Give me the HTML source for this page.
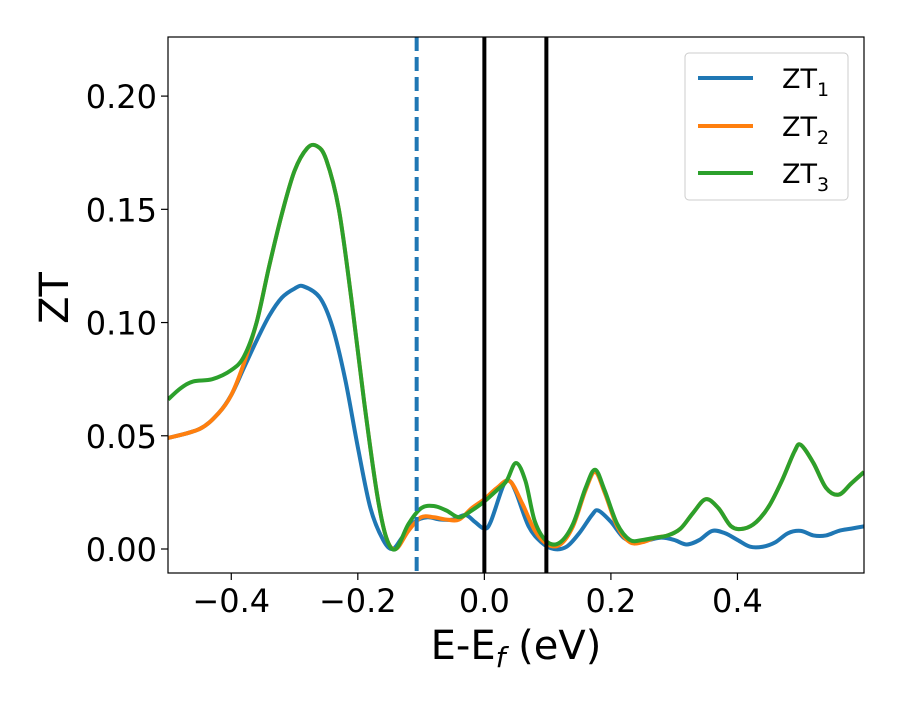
<!DOCTYPE html>
<html><head><meta charset="utf-8"><style>
body{margin:0;background:#fff}
svg{font-family:"DejaVu Sans","Liberation Sans",sans-serif}
</style></head><body>
<svg id="chart" width="900" height="700" viewBox="0 0 900 700">
<rect width="900" height="700" fill="#fff"/>
<g id="series"></g>
<g id="vlines"></g>
<rect x="168" y="37" width="696" height="536" fill="none" stroke="#000" stroke-width="1.2"/>
<g id="xticks"></g>
<g id="yticks"></g>
<text x="516" y="659" font-size="40" text-anchor="middle">E-E<tspan font-size="28" dy="8" font-style="italic">f</tspan><tspan dy="-8"> (eV)</tspan></text>
<text transform="translate(68,298) rotate(-90)" font-size="40" text-anchor="middle">ZT</text>
<g>
<rect x="685" y="53" width="163" height="147" rx="4" fill="#fff" fill-opacity="0.8" stroke="#ccc"/>
<g><line x1="698" x2="753" y1="78" y2="78" stroke="#1f77b4" stroke-width="4"/><text x="782" y="88" font-size="27">ZT<tspan font-size="19" dy="8">1</tspan></text></g>
<g><line x1="698" x2="753" y1="126" y2="126" stroke="#ff7f0e" stroke-width="4"/><text x="782" y="136" font-size="27">ZT<tspan font-size="19" dy="8">2</tspan></text></g>
<g><line x1="698" x2="753" y1="173" y2="173" stroke="#2ca02c" stroke-width="4"/><text x="782" y="183" font-size="27">ZT<tspan font-size="19" dy="8">3</tspan></text></g>
</g>
</svg>
<script>
const xTicks=[-0.4,-0.2,0.0,0.2,0.4];
const xTickLabels=["−0.4","−0.2","0.0","0.2","0.4"];
const yTicks=[0,0.05,0.10,0.15,0.20];
const yTickLabels=["0.00","0.05","0.10","0.15","0.20"];
const x1=[-0.5,-0.45,-0.42,-0.4,-0.38,-0.36,-0.34,-0.32,-0.30,-0.286,-0.26,-0.24,-0.22,-0.20,-0.18,-0.16,-0.145,-0.13,-0.11,-0.09,-0.07,-0.05,-0.03,-0.015,0.0,0.01,0.03,0.04,0.05,0.07,0.09,0.11,0.13,0.15,0.17,0.18,0.20,0.22,0.24,0.26,0.28,0.30,0.32,0.34,0.36,0.38,0.40,0.42,0.44,0.46,0.48,0.50,0.52,0.54,0.56,0.58,0.60];
const zt1=[0.049,0.053,0.060,0.068,0.080,0.092,0.103,0.111,0.115,0.116,0.111,0.098,0.075,0.045,0.018,0.004,0.000,0.005,0.012,0.014,0.013,0.013,0.015,0.012,0.009,0.012,0.028,0.030,0.025,0.010,0.003,0.000,0.001,0.007,0.015,0.017,0.012,0.005,0.003,0.004,0.005,0.004,0.002,0.004,0.008,0.007,0.004,0.001,0.001,0.003,0.007,0.008,0.006,0.006,0.008,0.009,0.010];
const x2=[-0.5,-0.45,-0.42,-0.4,-0.38,-0.36,-0.34,-0.32,-0.30,-0.28,-0.265,-0.25,-0.23,-0.21,-0.19,-0.17,-0.155,-0.14,-0.12,-0.10,-0.08,-0.06,-0.04,-0.02,0.0,0.02,0.04,0.06,0.08,0.10,0.12,0.14,0.16,0.175,0.19,0.21,0.23,0.25,0.27,0.29,0.31,0.33,0.35,0.37,0.39,0.41,0.43,0.45,0.47,0.49,0.50,0.52,0.54,0.56,0.58,0.60];
const zt2=[0.049,0.053,0.060,0.068,0.082,0.100,0.125,0.148,0.167,0.177,0.178,0.172,0.150,0.110,0.065,0.025,0.005,0.000,0.008,0.014,0.014,0.013,0.013,0.018,0.022,0.027,0.030,0.020,0.008,0.002,0.002,0.010,0.026,0.034,0.025,0.010,0.003,0.003,0.005,0.006,0.009,0.016,0.022,0.018,0.010,0.009,0.012,0.019,0.030,0.043,0.046,0.038,0.027,0.024,0.029,0.034];
const x3=[-0.5,-0.48,-0.46,-0.43,-0.40,-0.38,-0.36,-0.34,-0.32,-0.30,-0.28,-0.265,-0.25,-0.23,-0.21,-0.19,-0.17,-0.155,-0.14,-0.12,-0.10,-0.08,-0.06,-0.04,-0.02,0.0,0.02,0.035,0.05,0.065,0.08,0.10,0.12,0.14,0.16,0.175,0.19,0.21,0.23,0.25,0.27,0.29,0.31,0.33,0.35,0.37,0.39,0.41,0.43,0.45,0.47,0.49,0.50,0.52,0.54,0.56,0.58,0.60];
const zt3=[0.066,0.071,0.074,0.075,0.079,0.085,0.100,0.125,0.148,0.167,0.177,0.178,0.172,0.150,0.110,0.065,0.025,0.005,0.000,0.011,0.018,0.019,0.017,0.014,0.017,0.021,0.026,0.030,0.038,0.030,0.012,0.003,0.003,0.011,0.027,0.035,0.026,0.011,0.004,0.004,0.005,0.006,0.009,0.016,0.022,0.018,0.010,0.009,0.012,0.019,0.030,0.043,0.046,0.038,0.027,0.024,0.029,0.034];
const vlineX=[-0.107,0.0,0.098];
const NS="http://www.w3.org/2000/svg";
const L=168,R=864,T=37,B=573,xMin=-0.5,xMax=0.6,yMin=-0.0106,yMax=0.2261;
function sx(v){return L+(v-xMin)/(xMax-xMin)*(R-L);}
function sy(v){return B-(v-yMin)/(yMax-yMin)*(B-T);}
function mk(tag,attrs,parent){const e=document.createElementNS(NS,tag);for(const k in attrs)e.setAttribute(k,attrs[k]);parent.appendChild(e);return e;}
function pathD(xs,ys){const p=xs.map((x,i)=>[sx(x),sy(ys[i])]);let d="M"+p[0][0]+","+p[0][1];
for(let i=0;i<p.length-1;i++){const p0=p[i-1]||p[i],p1=p[i],p2=p[i+1],p3=p[i+2]||p2;
d+=" C"+(p1[0]+(p2[0]-p0[0])/6)+","+(p1[1]+(p2[1]-p0[1])/6)+" "+(p2[0]-(p3[0]-p1[0])/6)+","+(p2[1]-(p3[1]-p1[1])/6)+" "+p2[0]+","+p2[1];}return d;}
const svg=document.getElementById('chart');
const clip=mk('clipPath',{id:'pc'},mk('defs',{},svg));mk('rect',{x:L,y:T,width:R-L,height:B-T},clip);
const sg=document.getElementById('series');sg.setAttribute('clip-path','url(#pc)');
[[x1,zt1,'#1f77b4','line-zt1'],[x2,zt2,'#ff7f0e','line-zt2'],[x3,zt3,'#2ca02c','line-zt3']].forEach(s=>{
const p=mk('path',{d:pathD(s[0],s[1]),fill:'none',stroke:s[2],'stroke-width':4,'stroke-linejoin':'round'},sg);

});
const vg=document.getElementById('vlines');
vlineX.forEach((v,i)=>{const l=mk('line',{x1:sx(v),x2:sx(v),y1:T,y2:B,stroke:i==0?'#1f77b4':'#000','stroke-width':4},vg);
if(i==0)l.setAttribute('stroke-dasharray','14,6');

});
const xg=document.getElementById('xticks');
xTicks.forEach((v,i)=>{mk('line',{x1:sx(v),x2:sx(v),y1:B,y2:B+7,stroke:'#000','stroke-width':1.2},xg);
const t=mk('text',{x:sx(v),y:B+39,'font-size':32,'text-anchor':'middle'},xg);t.textContent=xTickLabels[i];

});
const yg=document.getElementById('yticks');
yTicks.forEach((v,i)=>{mk('line',{x1:L-7,x2:L,y1:sy(v),y2:sy(v),stroke:'#000','stroke-width':1.2},yg);
const t=mk('text',{x:L-11,y:sy(v)+12,'font-size':32,'text-anchor':'end'},yg);t.textContent=yTickLabels[i];

});
</script>
</body></html>
